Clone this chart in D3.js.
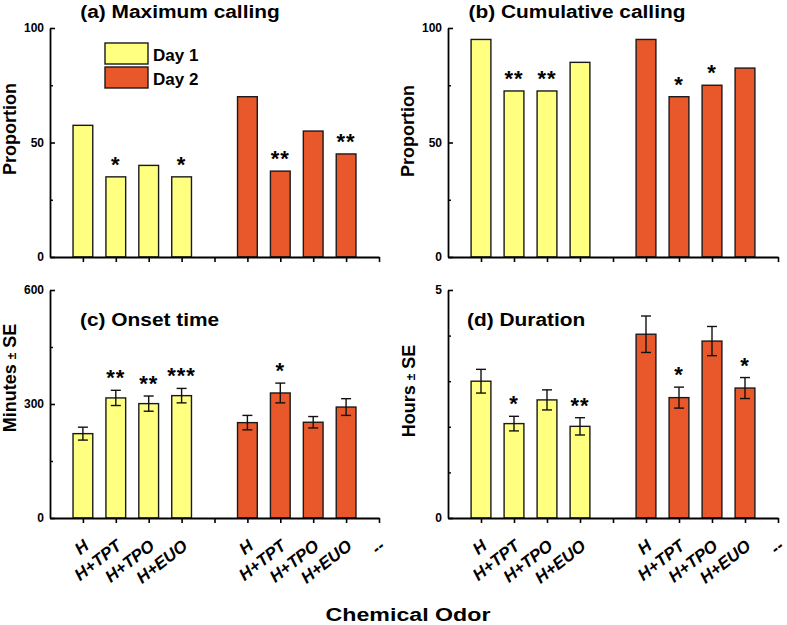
<!DOCTYPE html>
<html>
<head>
<meta charset="utf-8">
<script src="https://cdn.jsdelivr.net/npm/d3@7"></script>
<style>
  body { margin: 0; background: #fff; }
  text { font-family: "Liberation Sans", Arial, sans-serif; font-weight: bold; fill: #000; }
</style>
</head>
<body>
<svg width="787" height="625"></svg>
<script>
"use strict";

// data
const categories = ["H", "H+TPT", "H+TPO", "H+EUO"];
const tickLabels = ["H", "H+TPT", "H+TPO", "H+EUO", "", "H", "H+TPT", "H+TPO", "H+EUO", "--"];
const days = ["Day 1", "Day 2"];

const maxDay1 = [57.5, 35, 40, 35];
const maxDay2 = [70, 37.5, 55, 45];
const maxStars1 = ["", "*", "", "*"];
const maxStars2 = ["", "**", "", "**"];

const cumDay1 = [95, 72.5, 72.5, 85];
const cumDay2 = [95, 70, 75, 82.5];
const cumStars1 = ["", "**", "**", ""];
const cumStars2 = ["", "*", "*", ""];

const onsetDay1 = [222, 316, 301, 322];
const onsetSE1 = [17, 20, 20, 19];
const onsetDay2 = [251, 329, 252, 292];
const onsetSE2 = [19, 26, 15, 22];
const onsetStars1 = ["", "**", "**", "***"];
const onsetStars2 = ["", "*", "", ""];

const durDay1 = [3.0, 2.07, 2.59, 2.01];
const durSE1 = [0.26, 0.16, 0.22, 0.19];
const durDay2 = [4.03, 2.64, 3.88, 2.85];
const durSE2 = [0.4, 0.23, 0.32, 0.23];
const durStars1 = ["", "*", "", "**"];
const durStars2 = ["", "*", "", "*"];

const colors = ["#ffff80", "#e8582a"];
const barWidth = 0.6;   // in category units
const capHalf = 5;

const svg = d3.select("svg");

const panels = [
    { left: 50, right: 379, top: 28, bottom: 257, max: 100, majors: [0, 50, 100], minors: [25, 75],
      title: "(a) Maximum calling", titleX: 180, titleY: 18, titleAnchor: "middle",
      ylabel: ["Proportion"], ylabelX: 16, ylabelY: 129,
      v1: maxDay1, v2: maxDay2, s1: maxStars1, s2: maxStars2, legend: true },
    { left: 448, right: 778, top: 28, bottom: 257, max: 100, majors: [0, 50, 100], minors: [25, 75],
      title: "(b) Cumulative calling", titleX: 577, titleY: 18, titleAnchor: "middle",
      ylabel: ["Proportion"], ylabelX: 414, ylabelY: 131,
      v1: cumDay1, v2: cumDay2, s1: cumStars1, s2: cumStars2 },
    { left: 50, right: 379, top: 290, bottom: 518, max: 600, majors: [0, 300, 600], minors: [150, 450],
      title: "(c) Onset time", titleX: 80, titleY: 326, titleAnchor: "start",
      ylabel: ["Minutes ", "\u00b1", " SE"], ylabelX: 16, ylabelY: 378,
      v1: onsetDay1, v2: onsetDay2, e1: onsetSE1, e2: onsetSE2, s1: onsetStars1, s2: onsetStars2, xlabels: true },
    { left: 448, right: 778, top: 290, bottom: 518, max: 5, majors: [0, 5], minors: [1, 2, 3, 4],
      title: "(d) Duration", titleX: 467, titleY: 326, titleAnchor: "start",
      ylabel: ["Hours ", "\u00b1", " SE"], ylabelX: 415, ylabelY: 391,
      v1: durDay1, v2: durDay2, e1: durSE1, e2: durSE2, s1: durStars1, s2: durStars2, xlabels: true }
];

panels.forEach(p => {
    const x = d3.scaleLinear().domain([0, 10]).range([p.left, p.right]);
    const y = d3.scaleLinear().domain([0, p.max]).range([p.bottom, p.top]);
    const g = svg.append("g");

    // bars: Day 1 at positions 1-4, Day 2 at 6-9
    const series = [
        { vals: p.v1, se: p.e1, stars: p.s1, offset: 1, color: colors[0] },
        { vals: p.v2, se: p.e2, stars: p.s2, offset: 6, color: colors[1] }
    ];
    series.forEach(s => {
        const rows = categories.map((c, i) => ({
            pos: i + s.offset, v: s.vals[i], se: s.se ? s.se[i] : 0, star: s.stars[i]
        }));
        const bg = g.append("g");
        bg.selectAll("rect").data(rows).join("rect")
            .attr("x", d => x(d.pos - barWidth / 2))
            .attr("width", x(barWidth) - x(0))
            .attr("y", d => y(d.v))
            .attr("height", d => y(0) - y(d.v))
            .attr("fill", s.color)
            .attr("stroke", "#1a1a1a")
            .attr("stroke-width", 1.4);

        if (s.se) {
            const eg = bg.append("g").attr("stroke", "#111").attr("stroke-width", 1.4);
            eg.selectAll(".stem").data(rows).join("line")
                .attr("x1", d => x(d.pos)).attr("x2", d => x(d.pos))
                .attr("y1", d => y(d.v - d.se)).attr("y2", d => y(d.v + d.se));
            eg.selectAll(".capt").data(rows).join("line")
                .attr("x1", d => x(d.pos) - capHalf).attr("x2", d => x(d.pos) + capHalf)
                .attr("y1", d => y(d.v + d.se)).attr("y2", d => y(d.v + d.se));
            eg.selectAll(".capb").data(rows).join("line")
                .attr("x1", d => x(d.pos) - capHalf).attr("x2", d => x(d.pos) + capHalf)
                .attr("y1", d => y(d.v - d.se)).attr("y2", d => y(d.v - d.se));
        }

        bg.selectAll(".star").data(rows.filter(d => d.star)).join("text")
            .attr("x", d => x(d.pos))
            .attr("y", d => y(d.v + d.se) - 5)
            .attr("text-anchor", "middle")
            .attr("font-size", 22)
            .attr("letter-spacing", 1)
            .text(d => d.star);
    });

    // axes
    const yAxis = g.append("g")
        .attr("transform", `translate(${p.left},0)`)
        .call(d3.axisLeft(y).tickValues(p.majors).tickFormat(d3.format("d"))
            .tickSize(-5).tickSizeOuter(0).tickPadding(6));
    yAxis.select(".domain").attr("stroke-width", 1.8);
    yAxis.selectAll(".tick line").attr("stroke-width", 1.6);
    yAxis.selectAll(".tick text").attr("font-size", 12);

    const yMinor = g.append("g")
        .attr("transform", `translate(${p.left},0)`)
        .call(d3.axisLeft(y).tickValues(p.minors).tickSize(-3).tickFormat(""));
    yMinor.select(".domain").remove();
    yMinor.selectAll(".tick line").attr("stroke-width", 1.4);

    const xAxis = g.append("g")
        .attr("transform", `translate(0,${p.bottom})`)
        .call(d3.axisBottom(x).tickValues(d3.range(1, 11)).tickSize(5).tickSizeOuter(0).tickFormat(""));
    xAxis.select(".domain").attr("stroke-width", 1.8);
    xAxis.selectAll(".tick line").attr("stroke-width", 1.6);

    if (p.xlabels) {
        g.selectAll(".xl").data(tickLabels).join("text")
            .attr("transform", (d, i) => `translate(${x(i + 1) + 7},${p.bottom + 30}) rotate(-38)`)
            .attr("text-anchor", "end")
            .attr("font-size", 17)
            .attr("font-style", "italic")
            .text(d => d);
    }

    // title
    g.append("text")
        .attr("transform", `translate(${p.titleX},${p.titleY}) scale(1.16,1)`)
        .attr("text-anchor", p.titleAnchor)
        .attr("font-size", 18)
        .text(p.title);

    // y label
    const yl = g.append("text")
        .attr("transform", `translate(${p.ylabelX},${p.ylabelY}) rotate(-90)`)
        .attr("text-anchor", "middle")
        .attr("font-size", 18);
    yl.selectAll("tspan").data(p.ylabel).join("tspan")
        .attr("font-size", (d, i) => i === 1 ? 12 : 18)
        .text(d => d);

    if (p.legend) {
        const lg = g.append("g");
        days.forEach((d, i) => {
            lg.append("rect")
                .attr("x", 105).attr("y", 43 + i * 24)
                .attr("width", 43).attr("height", 21)
                .attr("fill", colors[i]).attr("stroke", "#1a1a1a").attr("stroke-width", 1.4);
            lg.append("text")
                .attr("x", 153).attr("y", 61 + i * 24)
                .attr("font-size", 17)
                .text(d);
        });
    }
});

svg.append("text")
    .attr("transform", "translate(408,621) scale(1.22,1)")
    .attr("text-anchor", "middle")
    .attr("font-size", 19)
    .text("Chemical Odor");
</script>
</body>
</html>
